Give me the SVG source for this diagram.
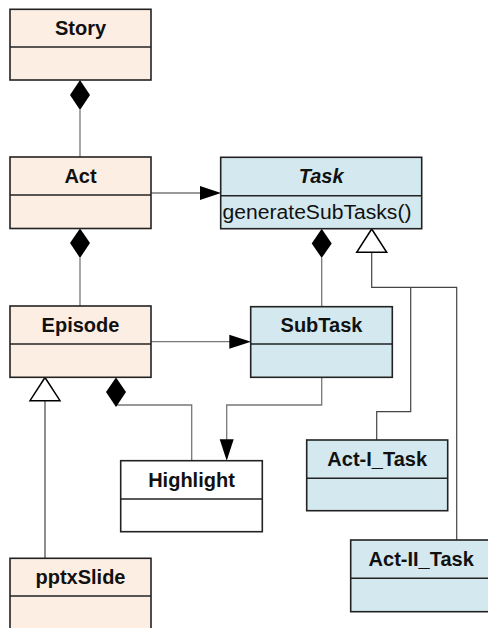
<svg xmlns="http://www.w3.org/2000/svg" width="488" height="628" viewBox="0 0 488 628">
<defs>
<style>
.box{stroke:#222;stroke-width:1.6}
.peach{fill:#FDEEE3}
.blue{fill:#D3E9EF}
.white{fill:#fff}
.t{font-family:"Liberation Sans",Arial,sans-serif;font-size:20px;font-weight:bold;fill:#111;text-anchor:middle}
.m{font-family:"Liberation Sans",Arial,sans-serif;font-size:20px;fill:#111}
.c{fill:none;stroke:#777;stroke-width:1.3}
.d{fill:none;stroke:#444;stroke-width:1.2}
.dia{fill:#000}
.tri{fill:#fff;stroke:#000;stroke-width:1.5}
.ah{fill:#000}
</style>
</defs>
<rect width="488" height="628" fill="#fff"/>
<g id="connectors">
  <line class="c" x1="80" y1="110" x2="80" y2="157"/>
  <polygon class="dia" points="80,80 90,95 80,110 70,95"/>
  <line class="c" x1="151" y1="193" x2="202" y2="193"/>
  <polygon class="ah" points="200,186 221,193 200,200"/>
  <line class="c" x1="80" y1="258" x2="80" y2="306"/>
  <polygon class="dia" points="80,228.5 90,243 80,258 70,243"/>
  <line class="c" x1="321.7" y1="258" x2="321.7" y2="306.7"/>
  <polygon class="dia" points="321.7,228.7 331.7,243.5 321.7,258 311.7,243.5"/>
  <polyline class="d" points="371.7,252.3 371.7,287.3 456.7,287.3 456.7,540"/>
  <polyline class="d" points="410.7,287.3 410.7,411.7 376.7,411.7 376.7,440"/>
  <polygon class="tri" points="371.7,229 386.7,252.3 356.7,252.3"/>
  <line class="c" x1="151" y1="341.7" x2="232" y2="341.7"/>
  <polygon class="ah" points="229.3,334.7 251,341.7 229.3,348.7"/>
  <line class="d" x1="45" y1="400.7" x2="45" y2="558.3"/>
  <polygon class="tri" points="45,377.5 60,400.7 30,400.7"/>
  <polyline class="c" points="116,405 191.7,405 191.7,460.7"/>
  <polygon class="dia" points="116,377.5 126,392 116,407 106,392"/>
  <polyline class="c" points="321.7,377.3 321.7,405 226.7,405 226.7,442"/>
  <polygon class="ah" points="219.7,439.3 233.7,439.3 226.7,460.7"/>
</g>
<g id="Story">
  <rect class="box peach" x="10" y="9.3" width="141" height="70.7"/>
  <line class="box" x1="10" y1="47" x2="151" y2="47"/>
  <text class="t" x="80.5" y="35">Story</text>
</g>
<g id="Act">
  <rect class="box peach" x="10" y="157" width="141" height="71.5"/>
  <line class="box" x1="10" y1="195" x2="151" y2="195"/>
  <text class="t" x="80.5" y="183">Act</text>
</g>
<g id="Task">
  <rect class="box blue" x="220.7" y="157.3" width="201" height="71.4"/>
  <line class="box" x1="220.7" y1="195.7" x2="421.7" y2="195.7"/>
  <text class="t" x="321.2" y="183" font-style="italic">Task</text>
  <text class="m" x="222.5" y="219" textLength="189" lengthAdjust="spacingAndGlyphs">generateSubTasks()</text>
</g>
<g id="Episode">
  <rect class="box peach" x="10" y="306" width="141" height="71.3"/>
  <line class="box" x1="10" y1="344" x2="151" y2="344"/>
  <text class="t" x="80.5" y="331.7">Episode</text>
</g>
<g id="SubTask">
  <rect class="box blue" x="250.7" y="306.7" width="141.6" height="70.6"/>
  <line class="box" x1="250.7" y1="344" x2="392.3" y2="344"/>
  <text class="t" x="321.5" y="331.7">SubTask</text>
</g>
<g id="Highlight">
  <rect class="box white" x="120.7" y="460.7" width="141.6" height="71"/>
  <line class="box" x1="120.7" y1="499" x2="262.3" y2="499"/>
  <text class="t" x="191.5" y="486.5">Highlight</text>
</g>
<g id="Act-I_Task">
  <rect class="box blue" x="306.7" y="440" width="141" height="70.7"/>
  <line class="box" x1="306.7" y1="478.3" x2="447.7" y2="478.3"/>
  <text class="t" x="377.2" y="466">Act-I_Task</text>
</g>
<g id="Act-II_Task">
  <rect class="box blue" x="350.7" y="540" width="141" height="71.7"/>
  <line class="box" x1="350.7" y1="578.3" x2="491.7" y2="578.3"/>
  <text class="t" x="421.2" y="566">Act-II_Task</text>
</g>
<g id="pptxSlide">
  <rect class="box peach" x="10" y="558.3" width="141" height="80"/>
  <line class="box" x1="10" y1="596" x2="151" y2="596"/>
  <text class="t" x="80.5" y="584">pptxSlide</text>
</g>
</svg>
